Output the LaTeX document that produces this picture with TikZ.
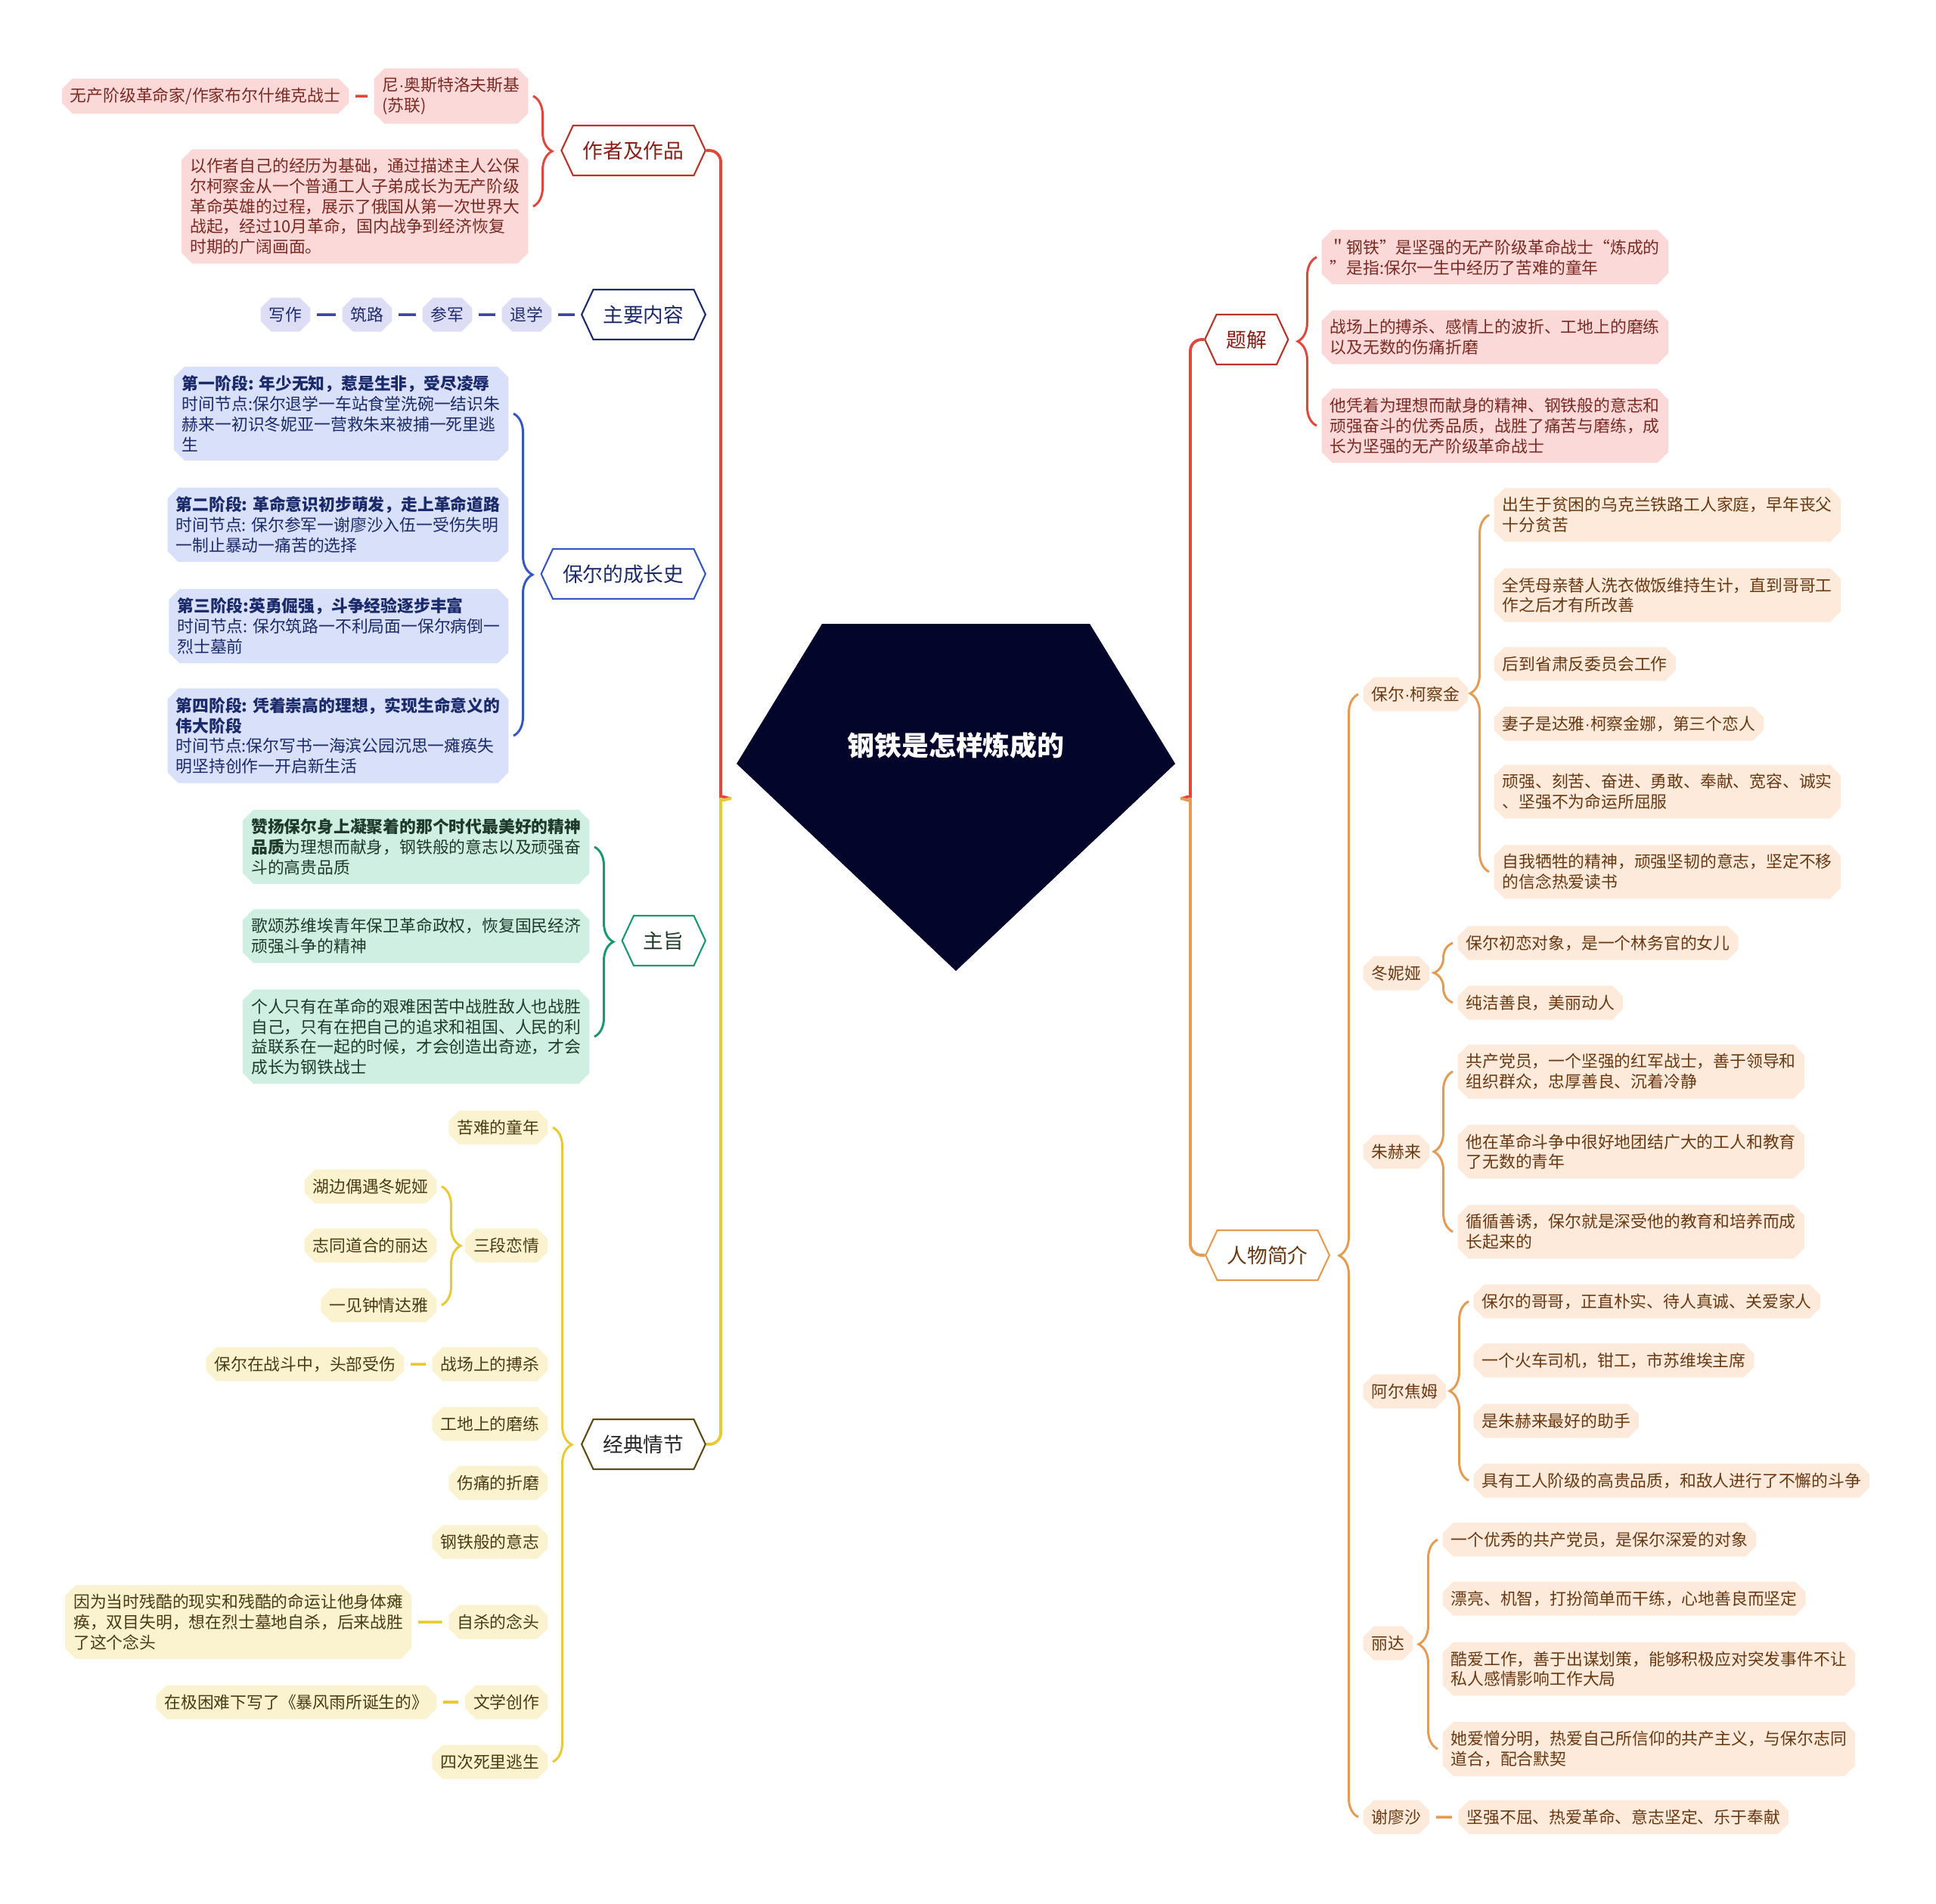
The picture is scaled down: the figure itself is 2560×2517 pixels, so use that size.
\documentclass[tikz,border=0pt]{standalone}
\usepackage{fontspec}
\setmainfont{Noto Sans CJK SC}
\newfontfamily\latf{Liberation Sans}
\usetikzlibrary{calc,shapes.misc,shapes.symbols,decorations.pathreplacing}

\definecolor{rootc}{HTML}{03052A}
\definecolor{redl}{HTML}{E2473B}
\definecolor{redd}{HTML}{B8342A}
\definecolor{redt}{HTML}{8A1E16}
\definecolor{pinkf}{HTML}{FBD9D8}
\definecolor{pinkt}{HTML}{7A2A22}
\definecolor{navyd}{HTML}{1E2A6E}
\definecolor{navyl}{HTML}{3C45A0}
\definecolor{lavf}{HTML}{DDDDF5}
\definecolor{blued}{HTML}{3656C4}
\definecolor{bluef}{HTML}{D9E0FA}
\definecolor{bluet}{HTML}{1B2A6A}
\definecolor{greend}{HTML}{1A9A6C}
\definecolor{greenf}{HTML}{CFEFE2}
\definecolor{greent}{HTML}{1F3A2A}
\definecolor{yelll}{HTML}{E8C936}
\definecolor{olived}{HTML}{5E4B14}
\definecolor{yellf}{HTML}{FBF3D0}
\definecolor{yellt}{HTML}{4A3C12}
\definecolor{orl}{HTML}{E59B52}
\definecolor{orf}{HTML}{FDEADB}
\definecolor{ort}{HTML}{6A3912}

\begin{document}
\begin{tikzpicture}[
  x=0.01cm, y=-0.01cm,
  font=\fontsize{6.2}{7.6}\selectfont,
  hexa/.style={signal, signal to=east and west, signal pointer angle=130, draw, fill=white, line width=0.6pt, minimum height=0.66cm, inner xsep=0.13cm, inner ysep=0pt, font=\fontsize{7.6}{9}\selectfont},
  hexR/.style={hexa, draw=redd, text=redt},
  hexN/.style={hexa, draw=navyd, text=navyd},
  hexB/.style={hexa, draw=blued, text=bluet},
  hexG/.style={hexa, draw=greend, text=greent},
  hexY/.style={hexa, draw=olived, text=black!85},
  hexO/.style={hexa, draw=orl, text=ort},
  leaf/.style={chamfered rectangle, chamfered rectangle sep=0.07cm, align=left, inner xsep=0.04cm, inner ysep=0.05cm, minimum height=0.45cm},
  pinkbox/.style={leaf, fill=pinkf, text=pinkt},
  lavbox/.style={leaf, fill=lavf, text=navyd},
  bluebox/.style={leaf, fill=bluef, text=bluet},
  mintbox/.style={leaf, fill=greenf, text=greent},
  yelbox/.style={leaf, fill=yellf, text=yellt},
  peachbox/.style={leaf, fill=orf, text=ort},
  trunk/.style={line width=1.1pt, rounded corners=0.15cm},
  brc/.style={decorate, decoration={brace, amplitude=0.25cm}, line width=0.85pt},
  lnk/.style={line width=1pt, shorten <=0.08cm, shorten >=0.08cm}
]
\useasboundingbox (0,0) rectangle (2560,2517);

% centre
\fill[rootc] (1087,825) -- (1441,825) -- (1554,1010) -- (1264,1284) -- (974,1010) -- cycle;
\node[font=\fontsize{10.2}{12}\selectfont\bfseries, text=white] (root) at (1264,986) {钢铁是怎样炼成的};
\coordinate (lhub) at (967,1056);
\coordinate (rhub) at (1561,1056);

% left side
\node[hexR, anchor=east] (zz) at (934,199) {作者及作品};
\node[pinkbox, anchor=east] (zz1) at (699,127) {尼{\latf ·}奥斯特洛夫斯基\\(苏联)};
\node[pinkbox, anchor=east] (zz0) at (462,127) {无产阶级革命家/作家布尔什维克战士};
\node[pinkbox, anchor=east] (zz2) at (699,273) {以作者自己的经历为基础，通过描述主人公保\\尔柯察金从一个普通工人子弟成长为无产阶级\\革命英雄的过程，展示了俄国从第一次世界大\\战起，经过10月革命，国内战争到经济恢复\\时期的广阔画面。};

\node[hexN, anchor=east] (zy) at (934,416) {主要内容};
\node[lavbox, anchor=east] (zy1) at (730,416) {退学};
\node[lavbox, anchor=east] (zy2) at (625,416) {参军};
\node[lavbox, anchor=east] (zy3) at (519,416) {筑路};
\node[lavbox, anchor=east] (zy4) at (411,416) {写作};

\node[hexB, anchor=east] (cz) at (934,759) {保尔的成长史};
\node[bluebox, anchor=east] (cz1) at (673,547) {\textbf{第一阶段: 年少无知，惹是生非，受尽凌辱}\\时间节点:保尔退学一车站食堂洗碗一结识朱\\赫来一初识冬妮亚一营救朱来被捕一死里逃\\生};
\node[bluebox, anchor=east] (cz2) at (673,694) {\textbf{第二阶段: 革命意识初步萌发，走上革命道路}\\时间节点: 保尔参军一谢廖沙入伍一受伤失明\\一制止暴动一痛苦的选择};
\node[bluebox, anchor=east] (cz3) at (673,828) {\textbf{第三阶段:英勇倔强，斗争经验逐步丰富}\\时间节点: 保尔筑路一不利局面一保尔病倒一\\烈士墓前};
\node[bluebox, anchor=east] (cz4) at (673,973) {\textbf{第四阶段: 凭着崇高的理想，实现生命意义的}\\\textbf{伟大阶段}\\时间节点:保尔写书一海滨公园沉思一瘫痪失\\明坚持创作一开启新生活};

\node[hexG, anchor=east] (zt) at (934,1244) {主旨};
\node[mintbox, anchor=east] (zt1) at (780,1120) {\textbf{赞扬保尔身上凝聚着的那个时代最美好的精神}\\\textbf{品质}为理想而献身，钢铁般的意志以及顽强奋\\斗的高贵品质};
\node[mintbox, anchor=east] (zt2) at (780,1238) {歌颂苏维埃青年保卫革命政权，恢复国民经济\\顽强斗争的精神};
\node[mintbox, anchor=east] (zt3) at (780,1371) {个人只有在革命的艰难困苦中战胜敌人也战胜\\自己，只有在把自己的追求和祖国、人民的利\\益联系在一起的时候，才会创造出奇迹，才会\\成长为钢铁战士};

\node[hexY, anchor=east] (jd) at (934,1910) {经典情节};
\node[yelbox, anchor=east] (jd1) at (725,1491) {苦难的童年};
\node[yelbox, anchor=east] (jd2) at (725,1647) {三段恋情};
\node[yelbox, anchor=east] (jd21) at (578,1569) {湖边偶遇冬妮娅};
\node[yelbox, anchor=east] (jd22) at (578,1647) {志同道合的丽达};
\node[yelbox, anchor=east] (jd23) at (578,1726) {一见钟情达雅};
\node[yelbox, anchor=east] (jd3) at (725,1804) {战场上的搏杀};
\node[yelbox, anchor=east] (jd31) at (535,1804) {保尔在战斗中，头部受伤};
\node[yelbox, anchor=east] (jd4) at (725,1883) {工地上的磨练};
\node[yelbox, anchor=east] (jd5) at (725,1961) {伤痛的折磨};
\node[yelbox, anchor=east] (jd6) at (725,2039) {钢铁般的意志};
\node[yelbox, anchor=east] (jd7) at (725,2145) {自杀的念头};
\node[yelbox, anchor=east] (jd71) at (545,2145) {因为当时残酷的现实和残酷的命运让他身体瘫\\痪，双目失明，想在烈士墓地自杀，后来战胜\\了这个念头};
\node[yelbox, anchor=east] (jd8) at (725,2251) {文学创作};
\node[yelbox, anchor=east] (jd81) at (578,2251) {在极困难下写了《暴风雨所诞生的》};
\node[yelbox, anchor=east] (jd9) at (725,2330) {四次死里逃生};

% right side
\node[hexR, anchor=west] (tj) at (1592,449) {题解};
\node[pinkbox, anchor=west] (tj1) at (1747,340) {＂钢铁”是坚强的无产阶级革命战士“炼成的\\”是指:保尔一生中经历了苦难的童年};
\node[pinkbox, anchor=west] (tj2) at (1747,446) {战场上的搏杀、感情上的波折、工地上的磨练\\以及无数的伤痛折磨};
\node[pinkbox, anchor=west] (tj3) at (1747,563) {他凭着为理想而献身的精神、钢铁般的意志和\\顽强奋斗的优秀品质，战胜了痛苦与磨练，成\\长为坚强的无产阶级革命战士};

\node[hexO, anchor=west] (rw) at (1593,1660) {人物简介};
\node[peachbox, anchor=west] (rw1) at (1802,918) {保尔{\latf ·}柯察金};
\node[peachbox, anchor=west] (rw11) at (1975,681) {出生于贫困的乌克兰铁路工人家庭，早年丧父\\十分贫苦};
\node[peachbox, anchor=west] (rw12) at (1975,787) {全凭母亲替人洗衣做饭维持生计，直到哥哥工\\作之后才有所改善};
\node[peachbox, anchor=west] (rw13) at (1975,878) {后到省肃反委员会工作};
\node[peachbox, anchor=west] (rw14) at (1975,957) {妻子是达雅{\latf ·}柯察金娜，第三个恋人};
\node[peachbox, anchor=west] (rw15) at (1975,1047) {顽强、刻苦、奋进、勇敢、奉献、宽容、诚实\\、坚强不为命运所屈服};
\node[peachbox, anchor=west] (rw16) at (1975,1153) {自我牺牲的精神，顽强坚韧的意志，坚定不移\\的信念热爱读书};
\node[peachbox, anchor=west] (rw2) at (1802,1287) {冬妮娅};
\node[peachbox, anchor=west] (rw21) at (1927,1247) {保尔初恋对象，是一个林务官的女儿};
\node[peachbox, anchor=west] (rw22) at (1927,1326) {纯洁善良，美丽动人};
\node[peachbox, anchor=west] (rw3) at (1802,1523) {朱赫来};
\node[peachbox, anchor=west] (rw31) at (1927,1417) {共产党员，一个坚强的红军战士，善于领导和\\组织群众，忠厚善良、沉着冷静};
\node[peachbox, anchor=west] (rw32) at (1927,1523) {他在革命斗争中很好地团结广大的工人和教育\\了无数的青年};
\node[peachbox, anchor=west] (rw33) at (1927,1629) {循循善诱，保尔就是深受他的教育和培养而成\\长起来的};
\node[peachbox, anchor=west] (rw4) at (1802,1840) {阿尔焦姆};
\node[peachbox, anchor=west] (rw41) at (1948,1721) {保尔的哥哥，正直朴实、待人真诚、关爱家人};
\node[peachbox, anchor=west] (rw42) at (1948,1799) {一个火车司机，钳工，市苏维埃主席};
\node[peachbox, anchor=west] (rw43) at (1948,1879) {是朱赫来最好的助手};
\node[peachbox, anchor=west] (rw44) at (1948,1958) {具有工人阶级的高贵品质，和敌人进行了不懈的斗争};
\node[peachbox, anchor=west] (rw5) at (1802,2173) {丽达};
\node[peachbox, anchor=west] (rw51) at (1907,2036) {一个优秀的共产党员，是保尔深爱的对象};
\node[peachbox, anchor=west] (rw52) at (1907,2114) {漂亮、机智，打扮简单而干练，心地善良而坚定};
\node[peachbox, anchor=west] (rw53) at (1907,2207) {酷爱工作，善于出谋划策，能够积极应对突发事件不让\\私人感情影响工作大局};
\node[peachbox, anchor=west] (rw54) at (1907,2313) {她爱憎分明，热爱自己所信仰的共产主义，与保尔志同\\道合，配合默契};
\node[peachbox, anchor=west] (rw6) at (1802,2403) {谢廖沙};
\node[peachbox, anchor=west] (rw61) at (1928,2403) {坚强不屈、热爱革命、意志坚定、乐于奉献};

% trunk
\draw[trunk, redl] (zz.east) -| ($(lhub)+(-14,-14)$) to[out=-90,in=180] (lhub);
\draw[trunk, yelll] (lhub) to[out=180,in=90] ($(lhub)+(-14,14)$) |- (jd.east);
\draw[trunk, redl] (rhub) to[out=0,in=-90] ($(rhub)+(13,-14)$) |- (tj.west);
\draw[trunk, orl] (rhub) to[out=0,in=90] ($(rhub)+(13,14)$) |- (rw.west);

% braces
\draw[brc, redl] ($(zz1.east)+(6,0)$) -- ($(zz2.east)+(6,0)$);
\draw[brc, blued] ($(cz1.east)+(6,0)$) -- ($(cz4.east)+(6,0)$);
\draw[brc, greend] ($(zt1.east)+(6,0)$) -- ($(zt3.east)+(6,0)$);
\draw[brc, yelll] ($(jd1.east)+(6,0)$) -- ($(jd9.east)+(6,0)$);
\draw[brc, yelll] ($(jd21.east)+(6,0)$) -- ($(jd23.east)+(6,0)$);
\draw[brc, redl] ($(tj3.west)+(-6,0)$) -- ($(tj1.west)+(-6,0)$);
\draw[brc, orl] ($(rw6.west)+(-6,0)$) -- ($(rw1.west)+(-6,0)$);
\draw[brc, orl] ($(rw16.west)+(-6,0)$) -- ($(rw11.west)+(-6,0)$);
\draw[brc, orl] ($(rw22.west)+(-6,0)$) -- ($(rw21.west)+(-6,0)$);
\draw[brc, orl] ($(rw33.west)+(-6,0)$) -- ($(rw31.west)+(-6,0)$);
\draw[brc, orl] ($(rw44.west)+(-6,0)$) -- ($(rw41.west)+(-6,0)$);
\draw[brc, orl] ($(rw54.west)+(-6,0)$) -- ($(rw51.west)+(-6,0)$);

% short links
\draw[lnk, redl] (zz0) -- (zz1);
\draw[lnk, navyl] (zy1) -- (zy); \draw[lnk, navyl] (zy2) -- (zy1);
\draw[lnk, navyl] (zy3) -- (zy2); \draw[lnk, navyl] (zy4) -- (zy3);
\draw[lnk, yelll] (jd31) -- (jd3);
\draw[lnk, yelll] (jd71) -- (jd7);
\draw[lnk, yelll] (jd81) -- (jd8);
\draw[lnk, orl] (rw6) -- (rw61);
\end{tikzpicture}
\end{document}
